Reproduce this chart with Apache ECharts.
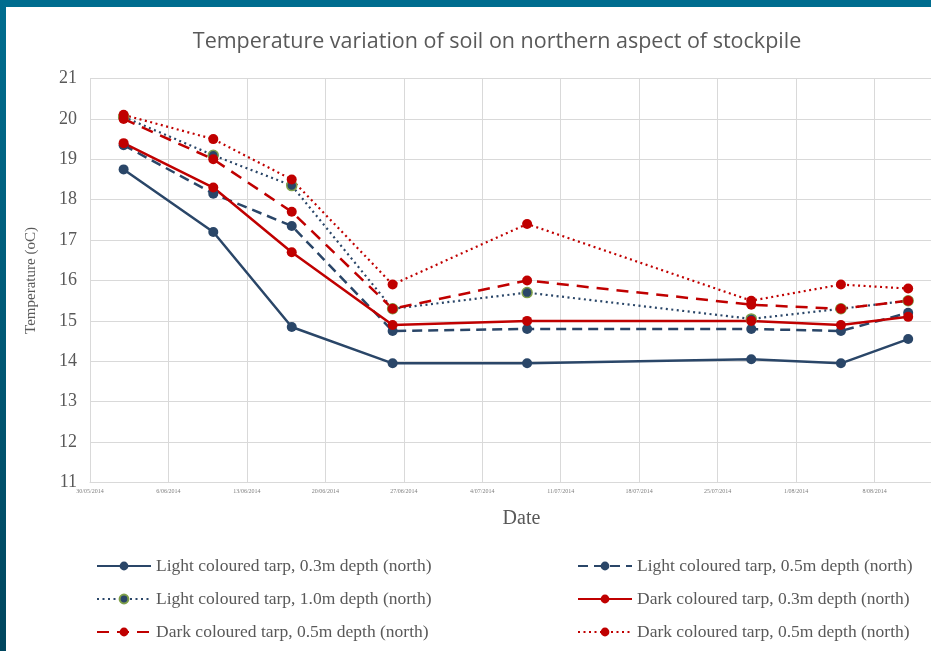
<!DOCTYPE html>
<html>
<head>
<meta charset="utf-8">
<script src="https://cdn.jsdelivr.net/npm/echarts@6/dist/echarts.min.js"></script>
<style>
  html, body { margin: 0; padding: 0; background: #fff; }
  #chart { position: absolute; left: 0; top: 0; width: 931px; height: 651px; }
  .strip-top { position: absolute; left: 0; top: 0; width: 931px; height: 7px; background: #006d8f; }
  .strip-left { position: absolute; left: 0; top: 0; width: 6px; height: 651px; background: linear-gradient(#006d8f, #00465e); }
</style>
</head>
<body>
<div id="chart"></div>
<div class="strip-top"></div>
<div class="strip-left"></div>
<script>
// sampling dates
var dates = ['2014-06-02', '2014-06-10', '2014-06-17', '2014-06-26', '2014-07-08', '2014-07-28', '2014-08-05', '2014-08-11']
// temperatures (oC)
var light03 = [18.75, 17.2, 14.85, 13.95, 13.95, 14.05, 13.95, 14.55]
var light05 = [19.35, 18.15, 17.35, 14.75, 14.8, 14.8, 14.75, 15.2]
var light10 = [20.05, 19.1, 18.35, 15.3, 15.7, 15.05, 15.3, 15.5]
var dark03 = [19.4, 18.3, 16.7, 14.9, 15.0, 15.0, 14.9, 15.1]
var dark05 = [20.0, 19.0, 17.7, 15.3, 16.0, 15.4, 15.3, 15.5]
var dark05b = [20.1, 19.5, 18.5, 15.9, 17.4, 15.5, 15.9, 15.8]

var names = [
  'Light coloured tarp, 0.3m depth (north)',
  'Light coloured tarp, 0.5m depth (north)',
  'Light coloured tarp, 1.0m depth (north)',
  'Dark coloured tarp, 0.3m depth (north)',
  'Dark coloured tarp, 0.5m depth (north)',
  'Dark coloured tarp, 0.5m depth (north) ' // same label twice in the original
]

var DAY = 86400000
var axisMin = Date.UTC(2014, 4, 30)
var axisMax = Date.UTC(2014, 7, 15)

var navy = '#2a4668'
var red = '#c00000'
var grey = '#595959'
var serif = 'Liberation Serif'

function toTime (s) {
  var p = s.split('-')
  return Date.UTC(+p[0], +p[1] - 1, +p[2])
}

function pairs (vals) {
  return vals.map(function (v, i) { return [toTime(dates[i]), v] })
}

function makeSeries (name, vals, color, lineType, width, border) {
  return {
    name: name,
    type: 'line',
    symbol: 'circle',
    symbolSize: 10,
    lineStyle: { color: color, width: width, type: lineType },
    itemStyle: { color: color, borderColor: border || color, borderWidth: border ? 1.5 : 0 },
    emphasis: { disabled: true },
    data: pairs(vals)
  }
}

function makeLegend (items, left) {
  return {
    data: items,
    orient: 'vertical',
    left: left,
    top: 557,
    padding: 0,
    itemWidth: 54,
    itemHeight: 11,
    itemGap: 15,
    textStyle: { color: grey, fontFamily: serif, fontSize: 17.5, lineHeight: 18 }
  }
}

var chart = echarts.init(document.getElementById('chart'))

var option = {
  animation: false,
  title: {
    text: 'Temperature variation of soil on northern aspect of stockpile',
    left: 492,
    top: 26,
    textAlign: 'center',
    textStyle: { color: grey, fontFamily: 'Open Sans', fontSize: 21.5, fontWeight: 'normal' }
  },
  // plot runs past the right edge of the window, as in the original
  grid: { left: 90, width: 863, top: 78.5, bottom: 168.5, outerBoundsMode: 'none' },
  legend: [
    makeLegend([names[0], names[2], names[4]], 96),
    makeLegend([names[1], names[3], names[5]], 577)
  ],
  xAxis: {
    type: 'value',
    min: axisMin,
    max: axisMax,
    interval: 7 * DAY,
    name: 'Date',
    nameLocation: 'middle',
    nameGap: 26,
    nameTextStyle: { color: grey, fontFamily: serif, fontSize: 20 },
    axisLine: { lineStyle: { color: '#d9d9d9' } },
    axisTick: { show: false },
    splitLine: { lineStyle: { color: '#d9d9d9' } },
    axisLabel: {
      color: '#7f7f7f',
      fontSize: 6,
      fontFamily: serif,
      margin: 6,
      showMaxLabel: false,
      formatter: function (v) {
        var d = new Date(v)
        var m = d.getUTCMonth() + 1
        return d.getUTCDate() + '/' + (m < 10 ? '0' + m : m) + '/' + d.getUTCFullYear()
      }
    }
  },
  yAxis: {
    type: 'value',
    min: 11,
    max: 21,
    interval: 1,
    name: 'Temperature (oC)',
    nameLocation: 'middle',
    nameGap: 51,
    nameTextStyle: { color: grey, fontFamily: serif, fontSize: 15 },
    axisLine: { show: true, lineStyle: { color: '#d9d9d9' } },
    axisTick: { show: false },
    splitLine: { lineStyle: { color: '#d9d9d9' } },
    axisLabel: { color: grey, fontFamily: serif, fontSize: 18, margin: 13 }
  },
  series: [
    makeSeries(names[0], light03, navy, 'solid', 2.5),
    makeSeries(names[1], light05, navy, [10, 6], 2.5),
    makeSeries(names[2], light10, navy, [2, 3.5], 2.2, '#7fa04a'),
    makeSeries(names[3], dark03, red, 'solid', 2.5),
    makeSeries(names[4], dark05, red, [12, 8], 2.5),
    makeSeries(names[5], dark05b, red, [2, 3.5], 2.2)
  ]
}

chart.setOption(option)
</script>
</body>
</html>
